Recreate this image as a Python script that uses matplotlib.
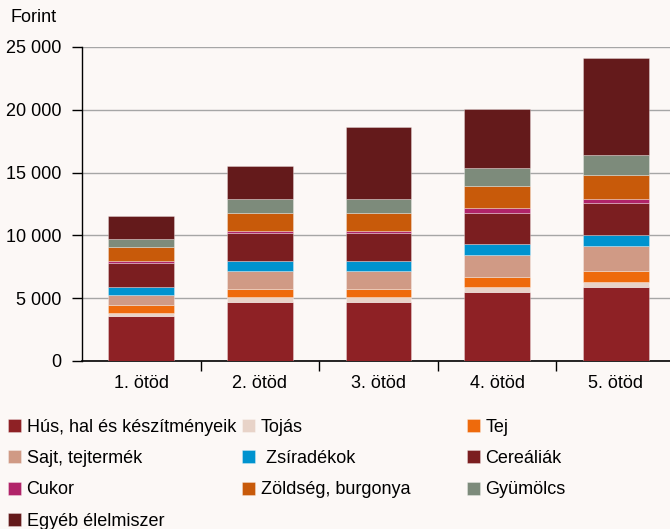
import matplotlib
matplotlib.use("Agg")
import matplotlib.pyplot as plt
from matplotlib.ticker import FuncFormatter
import numpy as np

plt.rcParams["font.family"] = ["Liberation Sans", "DejaVu Sans"]

# Kiadások ötödönként (Forint), alulról felfelé halmozva
otodok = ["1. ötöd", "2. ötöd", "3. ötöd", "4. ötöd", "5. ötöd"]
kategoriak = ["Hús, hal és készítményeik", "Tojás", "Tej", "Sajt, tejtermék",
              " Zsíradékok", "Cereáliák", "Cukor", "Zöldség, burgonya",
              "Gyümölcs", "Egyéb élelmiszer"]
hus = [3580, 4700, 4700, 5490, 5910]
tojas = [265, 375, 375, 375, 375]
tej = [590, 685, 685, 845, 850]
sajt = [800, 1385, 1385, 1750, 2015]
zsir = [640, 795, 795, 850, 900]
cerealia = [1960, 2230, 2230, 2490, 2500]
cukor = [160, 205, 190, 375, 365]
zoldseg = [1115, 1435, 1455, 1750, 1865]
gyumolcs = [640, 1115, 1115, 1435, 1640]
egyeb = [1810, 2600, 5685, 4675, 7700]

szinek = ["#8e2125", "#e8d3c8", "#ee6a0c", "#d09a85", "#0093cf",
          "#7b1e20", "#b12469", "#c85a0a", "#7d8b7b", "#641a1b"]

sorok = [hus, tojas, tej, sajt, zsir, cerealia, cukor, zoldseg, gyumolcs, egyeb]

hatter = "#fcf8f6"
fig = plt.figure(figsize=(6.7, 5.29), dpi=100, facecolor=hatter)
ax = fig.add_axes([0.1224, 0.3176, 0.885, 0.5936], facecolor=hatter)

x = np.arange(len(otodok))
alja = np.zeros(len(otodok))
hnd = []
for nev, ertek, szin in zip(kategoriak, sorok, szinek):
    b = ax.bar(x, ertek, 0.555, bottom=alja, color=szin, label=nev,
               edgecolor=(1, 1, 1, 0.35), linewidth=0.6, zorder=3)
    hnd.append(b)
    alja += np.array(ertek)

ax.set_xlim(-0.5, 4.5)
ax.set_ylim(0, 25000)
ax.set_yticks(range(0, 25001, 5000))
ax.yaxis.set_major_formatter(FuncFormatter(lambda v, p: f"{int(v):,}".replace(",", " ")))
ax.grid(axis="y", color="#a6a6a6", linewidth=1.0, zorder=0)
ax.set_xticks(x)
ax.set_xticklabels(otodok)
ax.set_xticks(np.arange(0.5, 4.5, 1), minor=True)
ax.tick_params(axis="x", which="major", length=0, pad=10, labelsize=13)
ax.tick_params(axis="x", which="minor", length=7, width=1, direction="out")
ax.tick_params(axis="y", length=7, width=1, direction="out", pad=8, labelsize=13)
for s in ["top", "right"]:
    ax.spines[s].set_visible(False)
ax.spines["left"].set_linewidth(1)
ax.spines["bottom"].set_linewidth(1.2)

fig.text(10 / 670, 1 - 18 / 529, "Forint", fontsize=13, va="center", ha="left")

# jelmagyarázat: három oszlop, soronként olvasva
oszlopok = [[0, 3, 6, 9], [1, 4, 7], [2, 5, 8]]
oszlop_x = [4 / 670, 238 / 670, 463 / 670]
for idx, ox in zip(oszlopok, oszlop_x):
    lg = fig.legend([hnd[i] for i in idx], [kategoriak[i] for i in idx],
                    loc="upper left", bbox_to_anchor=(ox, 1 - 415 / 529),
                    frameon=False, fontsize=13, handlelength=0.75,
                    handleheight=0.75, handletextpad=0.3, labelspacing=0.8,
                    borderpad=0.2, borderaxespad=0)

fig.savefig("out.png", dpi=100, facecolor=hatter)
